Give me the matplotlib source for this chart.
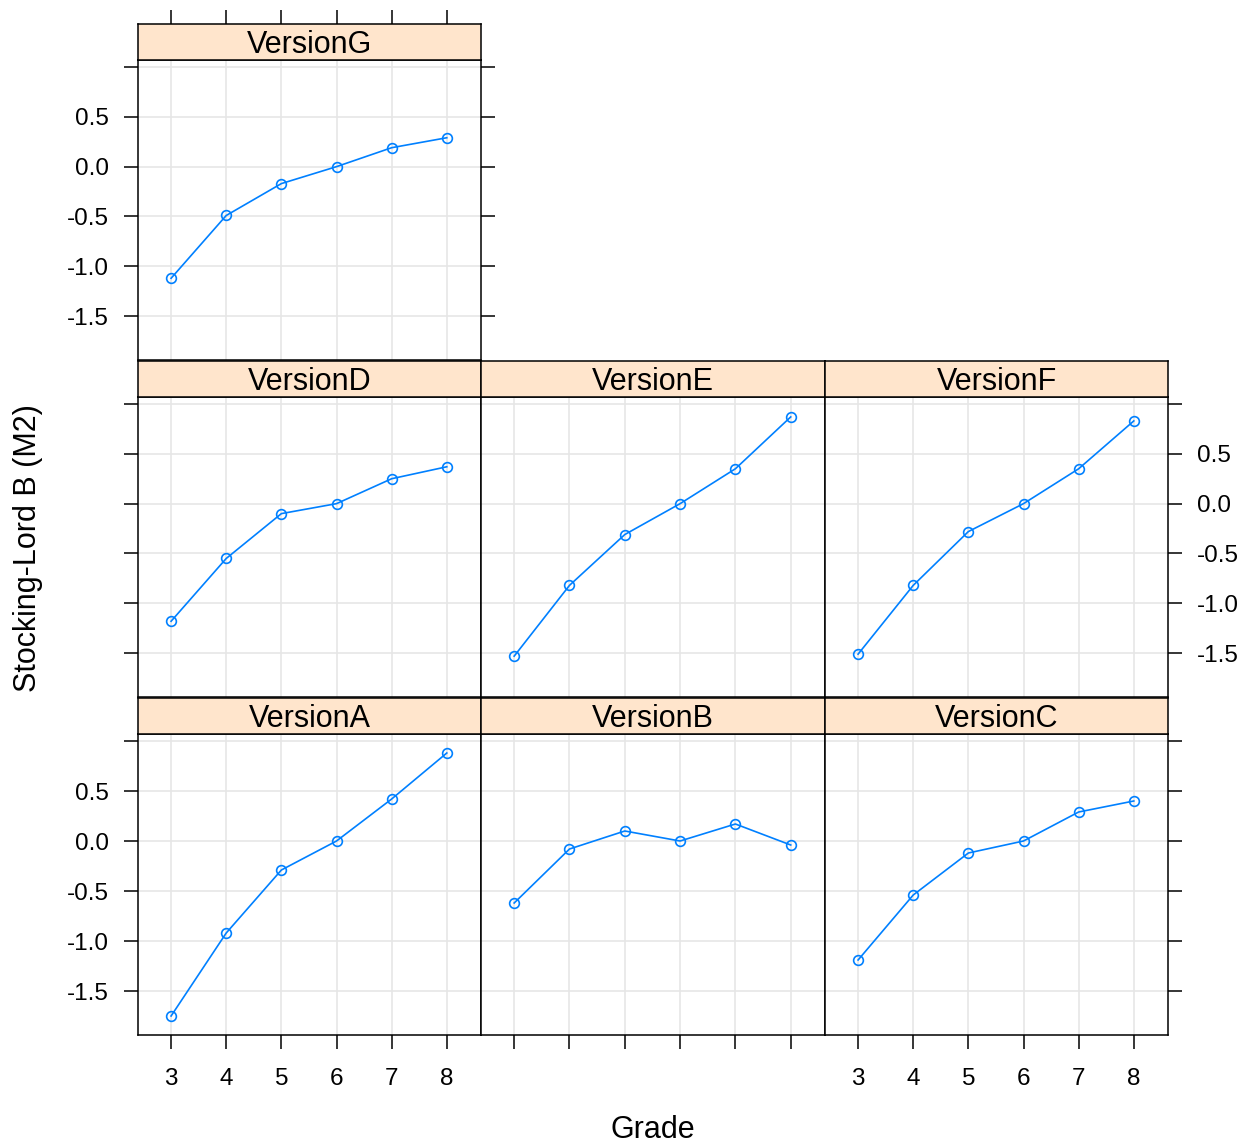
import matplotlib
matplotlib.use('Agg')
import matplotlib.pyplot as plt

plt.rcParams['font.family'] = ['Liberation Sans', 'DejaVu Sans']

# data
grades = [3, 4, 5, 6, 7, 8]
version_a = [-1.75, -0.92, -0.29, 0.00, 0.42, 0.88]
version_b = [-0.62, -0.08, 0.10, 0.00, 0.17, -0.04]
version_c = [-1.19, -0.54, -0.12, 0.00, 0.29, 0.40]
version_d = [-1.18, -0.55, -0.10, 0.00, 0.25, 0.37]
version_e = [-1.53, -0.82, -0.31, 0.00, 0.35, 0.87]
version_f = [-1.51, -0.82, -0.28, 0.00, 0.35, 0.83]
version_g = [-1.12, -0.49, -0.17, 0.00, 0.19, 0.29]
y_ticks = [1.0, 0.5, 0.0, -0.5, -1.0, -1.5]
y_labels = ['', '0.5', '0.0', '-0.5', '-1.0', '-1.5']

W, H = 1246, 1148
fig = plt.figure(figsize=(W / 100, H / 100), dpi=100)

col_x = [138, 481, 825, 1168]
row_y = [(60, 360), (397, 697), (734, 1035)]  # plot top, bottom in px
strip_h = 36
blue = '#0080ff'
strip_col = '#ffe5cc'

# name, values, col, row, axes options
panels = [
    ('VersionG', version_g, 0, 0, dict(left=True, lab_left=True, top=True, right=True)),
    ('VersionD', version_d, 0, 1, dict(left=True)),
    ('VersionE', version_e, 1, 1, dict()),
    ('VersionF', version_f, 2, 1, dict(right=True, lab_right=True)),
    ('VersionA', version_a, 0, 2, dict(left=True, lab_left=True, bottom=True, lab_bottom=True)),
    ('VersionB', version_b, 1, 2, dict(bottom=True)),
    ('VersionC', version_c, 2, 2, dict(bottom=True, lab_bottom=True, right=True)),
]

for name, vals, c, r, opt in panels:
    x0, x1 = col_x[c], col_x[c + 1]
    top, bot = row_y[r]
    ax = fig.add_axes([x0 / W, 1 - bot / H, (x1 - x0) / W, (bot - top) / H])
    ax.set_xlim(2.4, 8.62)
    ax.set_ylim(-1.94, 1.07)
    ax.set_xticks(grades)
    ax.set_yticks(y_ticks)
    ax.grid(True, color='#e6e6e6', linewidth=1.2)
    ax.set_axisbelow(True)
    ax.plot(grades, vals, color=blue, linewidth=1.2, marker='o', markersize=7,
            markerfacecolor='none', markeredgecolor=blue, markeredgewidth=1.2)
    for s in ax.spines.values():
        s.set_linewidth(1.1)
    ax.tick_params(direction='out', length=10, width=1.1, labelsize=17.5,
                   left=opt.get('left', False), labelleft=opt.get('lab_left', False),
                   right=opt.get('right', False), labelright=opt.get('lab_right', False),
                   bottom=opt.get('bottom', False), labelbottom=opt.get('lab_bottom', False),
                   top=False, labeltop=False)
    ax.tick_params(axis='y', pad=11)
    ax.tick_params(axis='x', pad=14)
    ax.set_yticklabels(y_labels)
    ax.set_xticklabels([str(g) for g in grades])

    # strip
    sax = fig.add_axes([x0 / W, 1 - top / H, (x1 - x0) / W, strip_h / H])
    sax.set_facecolor(strip_col)
    sax.set_xlim(2.4, 8.62)
    sax.set_yticks([])
    sax.set_xticks(grades)
    for s in sax.spines.values():
        s.set_linewidth(1.1)
    sax.tick_params(axis='x', direction='out', length=10, width=1.1,
                    bottom=False, labelbottom=False,
                    top=opt.get('top', False), labeltop=False)
    sax.text(0.5, 0.42, name, transform=sax.transAxes, ha='center', va='center',
             fontsize=22)

fig.text(653 / W, 1 - 1130 / H, 'Grade', ha='center', va='center', fontsize=22)
fig.text(28 / W, 1 - 548 / H, 'Stocking-Lord B (M2)', ha='center', va='center',
         rotation=90, fontsize=22)

fig.savefig('out.png', dpi=100)
